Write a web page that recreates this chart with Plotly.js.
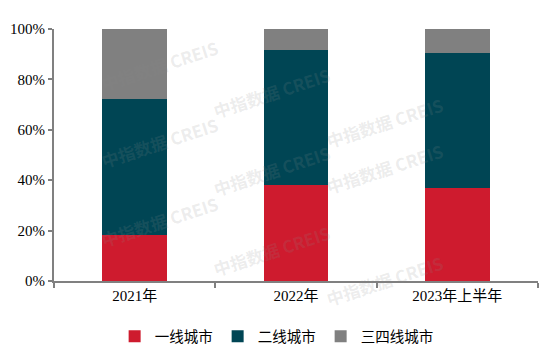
<!DOCTYPE html>
<html><head><meta charset="utf-8">
<script src="https://cdn.plot.ly/plotly-3.0.1.min.js"></script>
<style>html,body{margin:0;padding:0;background:#fff}</style>
</head><body>
<div id="chart" style="width:547px;height:360px"></div>
<script>
const categories = ["2021年", "2022年", "2023年上半年"];
const tier1 = [18.4, 38.0, 36.9];
const tier2 = [54.0, 53.7, 53.7];
const tier34 = [27.6, 8.3, 9.4];
const seriesNames = ["一线城市", "二线城市", "三四线城市"];
const seriesColors = ["#CE1B2E", "#004554", "#808080"];
const yTicks = [0, 20, 40, 60, 80, 100];

const serif = "'Liberation Serif','Times New Roman','Noto Sans CJK SC',serif";
const sans = "'Noto Sans CJK SC','Noto Sans',sans-serif";

const traces = [tier1, tier2, tier34].map((vals, i) => ({
  type: "bar",
  x: categories,
  y: vals,
  name: seriesNames[i],
  marker: {color: seriesColors[i]},
  hoverinfo: "skip"
}));

const wm = [
  [0.085, 0.985], [0.45, 0.88], [0.815, 0.76],
  [0.085, 0.55], [0.45, 0.44], [0.815, 0.315],
  [0.085, 0.105], [0.45, -0.01], [0.815, -0.13]
];
const annotations = wm.map(p => ({
  xref: "paper", yref: "paper", x: p[0], y: p[1],
  text: "中指数据 CREIS", showarrow: false, textangle: -18,
  font: {family: sans, size: 17, color: "rgba(140,140,140,0.17)", weight: 700}
}));

const layout = {
  width: 547, height: 360,
  margin: {l: 54, r: 9, t: 29, b: 78},
  paper_bgcolor: "#fff", plot_bgcolor: "#fff",
  barmode: "stack",
  bargap: 0.6,
  showlegend: true,
  legend: {
    orientation: "h", x: 0.46, xanchor: "center", y: -0.215, yanchor: "middle",
    font: {family: sans, size: 14.5, color: "#000"},
    traceorder: "normal", itemwidth: 30
  },
  xaxis: {
    type: "category",
    showline: true, linecolor: "#808080", linewidth: 2,
    ticks: "outside", tickson: "boundaries", ticklen: 5, tickcolor: "#808080", tickwidth: 2,
    tickfont: {family: serif, size: 15, color: "#000"},
    showgrid: false, zeroline: false, fixedrange: true
  },
  yaxis: {
    range: [0, 100],
    tickvals: yTicks, ticktext: yTicks.map(v => v + "%"),
    showline: true, linecolor: "#808080", linewidth: 2,
    ticks: "outside", ticklen: 4, tickcolor: "#808080", tickwidth: 2,
    tickfont: {family: serif, size: 15, color: "#000"},
    showgrid: false, zeroline: false, fixedrange: true
  },
  annotations: annotations
};

Plotly.newPlot("chart", traces, layout, {displayModeBar: false, staticPlot: true});
</script>
</body></html>
